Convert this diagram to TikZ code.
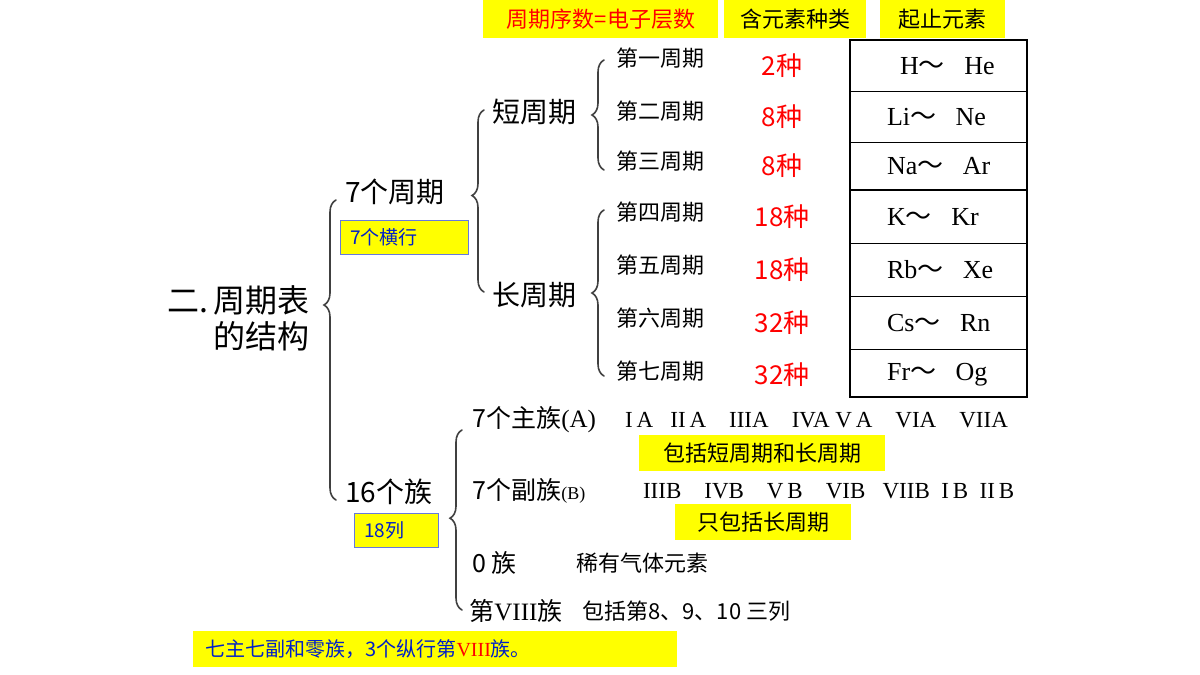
\documentclass[tikz,border=0pt]{standalone}
\usepackage{fontspec}
\setmainfont{Liberation Serif}
\newfontfamily\cjk{Noto Sans CJK SC}
\usetikzlibrary{decorations.pathreplacing, positioning}
\definecolor{hiyellow}{RGB}{255,255,0}
\definecolor{hiblue}{RGB}{0,32,200}
\tikzset{%
  bracepath/.style={%
    decorate, decoration={brace, amplitude=6pt, aspect=#1},
    thick, black!75, line cap=round,
  },
  bigtext/.style={font=\cjk\fontsize{14}{16}\selectfont, anchor=west, inner sep=1pt},
  midtext/.style={font=\cjk\fontsize{11}{13}\selectfont, anchor=west, inner sep=1pt},
  count/.style={font=\cjk\fontsize{13}{15}\selectfont, text=red},
  head/.style={%
    fill=hiyellow, font=\cjk\fontsize{11}{13}\selectfont,
    anchor=north west, inner sep=0pt, minimum height=19pt,
  },
  tag/.style={%
    fill=hiyellow, draw=hiblue!60, font=\cjk\fontsize{9.5}{11}\selectfont,
    text=hiblue, anchor=north west, inner xsep=5pt, inner ysep=0pt,
    minimum height=17pt, align=left,
  },
  note/.style={%
    fill=hiyellow, font=\cjk\fontsize{11}{13}\selectfont,
    anchor=north west, inner sep=0pt, minimum height=18pt,
  },
  cell/.style={font=\fontsize{13}{15}\selectfont, anchor=west},
}
\newcommand{\wave}{{\cjk ～}}
\begin{document}
\begin{tikzpicture}[x=0.5pt, y=-0.5pt]
  \useasboundingbox (0,0) rectangle (1200,675);

  % header boxes
  \node [head, minimum width=117.5pt, text=red] (hd_order) at (483,0) {周期序数=电子层数};
  \node [head, minimum width=71pt] (hd_kind) at (724,0) {含元素种类};
  \node [head, minimum width=62.5pt] (hd_range) at (880,0) {起止元素};

  % root
  \node [bigtext, font=\cjk\fontsize{16}{18}\selectfont, align=right, anchor=east] (root) at (312,318) {二.\,周期表\\的结构};

  \node [bigtext] (periods) at (343,192) {7个周期};
  \node [tag, text width=54pt] (tag_rows) at (340,220) {7个横行};
  \node [bigtext] (groups) at (343,492) {16个族};
  \node [tag, text width=32pt] (tag_cols) at (354,513) {18列};

  \node [bigtext] (short) at (490,112) {短周期};
  \node [bigtext] (long) at (490,295) {长周期};

  % periods, counts, table cells
  \foreach \name/\cnt/\cell/\y/\yc [count=\i] in
    {第一周期/2种/{\ \ H\wave\ \ \ He}/58/66, 第二周期/8种/{Li\wave\ \ \ Ne}/111/117,
     第三周期/8种/{Na\wave\ \ \ Ar}/161/166, 第四周期/18种/{K\wave\ \ \ Kr}/212/217,
     第五周期/18种/{Rb\wave\ \ \ Xe}/265/270, 第六周期/32种/{Cs\wave\ \ \ Rn}/318/323,
     第七周期/32种/{Fr\wave\ \ \ Og}/371/375} {
    \node [midtext] (per\i) at (614,\y) {\name};
    \node [count] (cnt\i) at (782,\yc) {\cnt};
    \node [cell] (cell\i) at (880,\yc) {\cell};
  }

  % table
  \draw [thick] (850,40) rectangle (1027,397);
  \foreach \y in {91,142,243,296,349} \draw [thin] (850,\y) -- (1027,\y);
  \draw [very thick] (850,190) -- (1027,190);

  % groups
  \node [bigtext, font=\cjk\fontsize{12.5}{14}\selectfont] (main) at (470,420) {7个主族\fontspec{Liberation Serif}(A)};
  \node [font=\fontsize{11.5}{14}\selectfont, anchor=west] (mainlist) at (618,420)
    {I\,A\ \ \ II\,A\ \ \ \ IIIA\ \ \ \ IVA\ V\,A\ \ \ \ VIA\ \ \ \ VIIA};
  \node [note, minimum width=123pt] (note_main) at (639,435) {包括短周期和长周期};
  \node [bigtext, font=\cjk\fontsize{12.5}{14}\selectfont] (sub) at (470,491) {7个副族{\fontspec{Liberation Serif}\fontsize{9}{11}\selectfont(B)}};
  \node [font=\fontsize{11.5}{14}\selectfont, anchor=west] (sublist) at (636,491)
    {IIIB\ \ \ \ IVB\ \ \ \ V\,B\ \ \ \ VIB\ \ \ VIIB\ \ I\,B\ \ II\,B};
  \node [note, minimum width=88pt] (note_sub) at (675,504) {只包括长周期};
  \node [bigtext, font=\cjk\fontsize{12.5}{14}\selectfont] (zero) at (470,563) {0\ 族};
  \node [midtext] (zero_txt) at (574,563) {稀有气体元素};
  \node [bigtext, font=\cjk\fontsize{12.5}{14}\selectfont] (eight) at (467,611) {第{\fontspec{Liberation Serif}VIII}族};
  \node [midtext] (eight_txt) at (580,611) {包括第8、9、10 三列};

  \node [note, inner xsep=6pt, text width=230pt, align=left, text=hiblue, font=\cjk\fontsize{10}{12}\selectfont] (summary) at (193,631)
    {七主七副和零族，3个纵行第{\color{red}\fontspec{Liberation Serif}VIII}族。};

  % braces
  \draw [bracepath=0.65] (336,500) -- (336,200);
  \draw [bracepath=0.53] (484,292) -- (484,110);
  \draw [bracepath=0.5] (604,170) -- (604,60);
  \draw [bracepath=0.5] (604,376) -- (604,210);
  \draw [bracepath=0.51] (462,610) -- (462,430);
\end{tikzpicture}
\end{document}
